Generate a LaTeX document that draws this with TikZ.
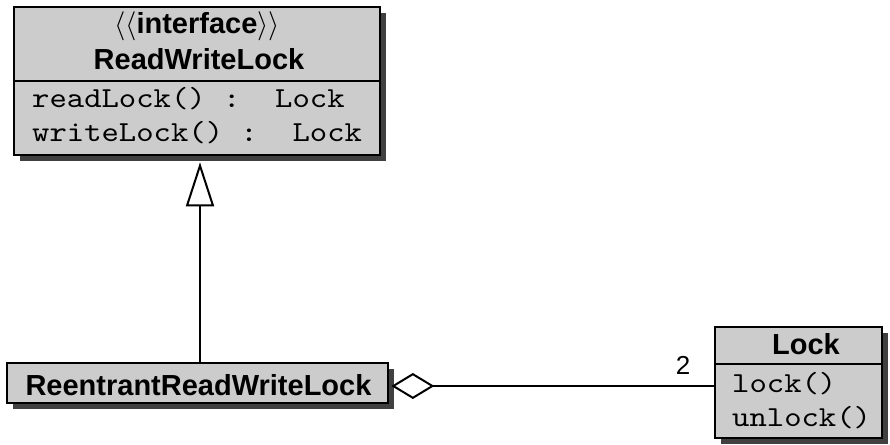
\RequirePackage{fix-cm}
\documentclass[tikz,border=0pt]{standalone}
\usepackage{fontspec}
\setmainfont{Liberation Sans}
\setmonofont{lmmono10-regular}[Extension=.otf, FakeStretch=1.14]
\usetikzlibrary{shadows,arrows.meta}

\definecolor{boxfill}{RGB}{204,204,204}
\definecolor{shadowgray}{RGB}{64,64,64}

\newcommand{\umlfont}{\fontsize{29}{33}\selectfont}

\begin{document}
\begin{tikzpicture}[x=1pt,y=-1pt,
  classbox/.style={draw=black, line width=2.7pt, fill=boxfill, inner sep=0pt,
    drop shadow={shadow xshift=6pt, shadow yshift=-6pt, fill=shadowgray, opacity=1}},
  divider/.style={draw=black, line width=2.2pt},
  titletext/.style={anchor=base, inner sep=0pt, font=\umlfont\bfseries},
  stereotext/.style={anchor=base, inner sep=0pt, font=\umlfont},
  optext/.style={anchor=base west, inner sep=0pt, font=\umlfont\ttfamily},
  multtext/.style={anchor=base, inner sep=0pt, font=\fontsize{26}{29}\selectfont},
  genline/.style={draw=black, line width=2pt,
    -{Triangle[open, length=44pt, width=28pt, line width=2pt]}},
  aggline/.style={draw=black, line width=2pt,
    {Diamond[open, length=43pt, width=26pt, line width=2pt]}-}
]
\useasboundingbox (0,0) rectangle (890,444);

% interface ReadWriteLock
\node[classbox, minimum width=366pt, minimum height=148pt] (rwl) at (197,81) {};
\draw[divider] (rwl.west |- 0,81) -- (rwl.east |- 0,81);
\node[stereotext] (rwlstereo) at (197,34) {$\langle\langle$\textbf{interface}$\rangle\rangle$};
\node[titletext] (rwlname) at (199,70) {ReadWriteLock};
\node[optext] (rwlop1) at (32,107.5) {readLock()~:~~Lock};
\node[optext] (rwlop2) at (32,141) {writeLock()~:~~Lock};

% class ReentrantReadWriteLock
\node[classbox, minimum width=381pt, minimum height=40pt] (rrwl) at (197.5,383) {};
\node[titletext] (rrwlname) at (198.5,395) {ReentrantReadWriteLock};

% class Lock
\node[classbox, minimum width=167pt, minimum height=111pt] (lock) at (798.5,382.5) {};
\draw[divider] (lock.west |- 0,364) -- (lock.east |- 0,364);
\node[titletext] (lockname) at (806,354) {Lock};
\node[optext] (lockop1) at (732,392) {lock()};
\node[optext] (lockop2) at (732,426) {unlock()};

% realization of the interface
\coordinate (genx) at (200,0);
\draw[genline, shorten >=6pt] (rrwl.north -| genx) -- (rwl.south -| genx);

% aggregation of two locks
\coordinate (aggy) at (0,386);
\draw[aggline, shorten <=2pt] (rrwl.east |- aggy) -- (lock.west |- aggy);
\node[multtext] (mult) at (683,374) {2};
\end{tikzpicture}
\end{document}
